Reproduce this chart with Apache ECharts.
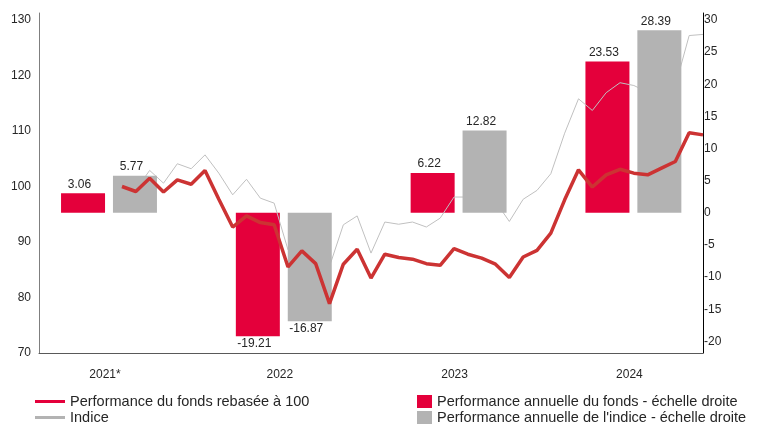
<!DOCTYPE html>
<html>
<head>
<meta charset="utf-8">
<script src="https://cdn.jsdelivr.net/npm/echarts@6/dist/echarts.min.js"></script>
<style>
  html, body { margin: 0; padding: 0; background: #fff; }
  #chart { width: 760px; height: 425px; }
</style>
</head>
<body>
<div id="chart"></div>
<script>
// Annual bars (right scale, %)
const years = ['2021*', '2022', '2023', '2024'];
const fundYearly = [3.06, -19.21, 6.22, 23.53];
const indexYearly = [5.77, -16.87, 12.82, 28.39];

// Monthly values rebased to 100, June 2021 -> December 2024
const fundRebased = [
  100.0, 99.1, 101.5, 99.0, 101.2, 100.4, 102.9, 97.7, 92.7, 94.7, 93.5, 93.1,
  85.5, 88.4, 86.1, 78.9, 86.0, 88.7, 83.5, 87.8, 87.2, 86.9, 86.1, 85.8,
  88.8, 87.8, 87.1, 86.0, 83.6, 87.3, 88.5, 91.6, 97.6, 103.0, 99.9, 102.1,
  103.1, 102.4, 102.1, 103.3, 104.5, 109.7, 109.3
];
const indexRebased = [
  100.0, 99.4, 102.9, 100.6, 104.1, 103.2, 105.7, 102.4, 98.5, 101.3, 97.9, 97.0,
  88.6, 91.5, 89.5, 85.6, 93.1, 94.7, 88.0, 93.6, 93.2, 93.6, 92.7, 94.3,
  98.1, 98.1, 98.5, 97.3, 93.7, 97.7, 99.3, 102.3, 109.6, 115.8, 113.7, 116.9,
  118.7, 118.2, 117.0, 119.0, 118.1, 127.2, 127.4
];

const leftTicks = [70, 80, 90, 100, 110, 120, 130];
const rightTicks = [-20, -15, -10, -5, 0, 5, 10, 15, 20, 25, 30];

const NAME_FUND = 'Performance du fonds rebasée à 100';
const NAME_INDEX = 'Indice';
const NAME_FUND_BAR = 'Performance annuelle du fonds - échelle droite';
const NAME_INDEX_BAR = "Performance annuelle de l'indice - échelle droite";

// month axis runs Dec 2020 .. Dec 2024, series start in June 2021
const months = [];
for (let y = 2020; y <= 2024; y++) {
  for (let m = 1; m <= 12; m++) {
    if (y === 2020 && m < 12) continue;
    months.push(y + '-' + String(m).padStart(2, '0'));
  }
}
const lead = months.indexOf('2021-06');
const pad = arr => Array(lead).fill('-').concat(arr);

const FONT = '"Liberation Sans", Arial, sans-serif';
const INK = '#262626';

const barData = vals => vals.map(v => ({
  value: v,
  label: { position: v < 0 ? 'bottom' : 'top', distance: v < 0 ? 1 : 3 }
}));
const barLabel = {
  show: true, fontSize: 12, color: INK, offset: [-3.5, 0],
  formatter: p => p.value.toFixed(2)
};

// one legend per row so nothing wraps
function legendRow(left, top, item, w, h) {
  return {
    left, top, padding: 0, itemWidth: w, itemHeight: h, icon: 'rect',
    textStyle: { fontSize: 14.5, color: INK },
    data: [item]
  };
}

const chart = echarts.init(document.getElementById('chart'));
chart.setOption({
  animation: false,
  textStyle: { fontFamily: FONT },
  grid: [
    { left: 39, right: 57, top: 13, bottom: 72 },
    { left: 21.6, right: 39.2, top: 13, bottom: 72 }
  ],
  legend: [
    legendRow(35, 394, { name: NAME_FUND, itemStyle: { color: '#e4003b' } }, 30, 3),
    legendRow(35, 410, { name: NAME_INDEX, itemStyle: { color: '#b3b3b3' } }, 30, 3),
    legendRow(417, 394, NAME_FUND_BAR, 15, 13),
    legendRow(417, 410, NAME_INDEX_BAR, 15, 13)
  ],
  xAxis: [
    {
      type: 'category', gridIndex: 0, data: months, boundaryGap: false,
      axisLine: { onZero: false, lineStyle: { color: '#595959', width: 1 } },
      axisTick: { show: false }, axisLabel: { show: false }, splitLine: { show: false }
    },
    {
      type: 'category', gridIndex: 1, data: years,
      axisLine: { show: false, onZero: false }, axisTick: { show: false },
      axisLabel: { margin: 16, fontSize: 12, color: INK, padding: [0, 8, 0, 0] }
    }
  ],
  yAxis: [
    {
      type: 'value', gridIndex: 0, position: 'left', min: 70, max: 131.26,
      axisLine: { show: true, lineStyle: { color: '#7f7f7f' } },
      axisTick: { show: false }, splitLine: { show: false },
      axisLabel: { customValues: leftTicks, margin: 8, fontSize: 12, color: INK }
    },
    {
      type: 'value', gridIndex: 0, position: 'right', min: -21.8, max: 31.09,
      axisLine: { show: true, lineStyle: { color: '#000' } },
      axisTick: { show: false }, splitLine: { show: false },
      axisLabel: { customValues: rightTicks, margin: 1, fontSize: 12, color: INK }
    },
    { type: 'value', gridIndex: 1, min: -21.8, max: 31.09, show: false }
  ],
  series: [
    {
      name: NAME_FUND_BAR, type: 'bar',
      xAxisIndex: 1, yAxisIndex: 2, barWidth: 44, barGap: '18%', z: 1,
      itemStyle: { color: '#e4003b' }, label: barLabel, data: barData(fundYearly)
    },
    {
      name: NAME_INDEX_BAR, type: 'bar',
      xAxisIndex: 1, yAxisIndex: 2, barWidth: 44, z: 3,
      itemStyle: { color: '#b3b3b3' }, label: barLabel, data: barData(indexYearly)
    },
    {
      name: NAME_INDEX, type: 'line', xAxisIndex: 0, yAxisIndex: 0, z: 2,
      symbol: 'none', lineStyle: { color: '#c0c0c0', width: 1 }, itemStyle: { color: '#c0c0c0' },
      data: pad(indexRebased)
    },
    {
      name: NAME_FUND, type: 'line', xAxisIndex: 0, yAxisIndex: 0, z: 4,
      symbol: 'none', lineStyle: { color: '#cc3333', width: 3.5 }, itemStyle: { color: '#cc3333' },
      data: pad(fundRebased)
    }
  ]
});
</script>
</body>
</html>
